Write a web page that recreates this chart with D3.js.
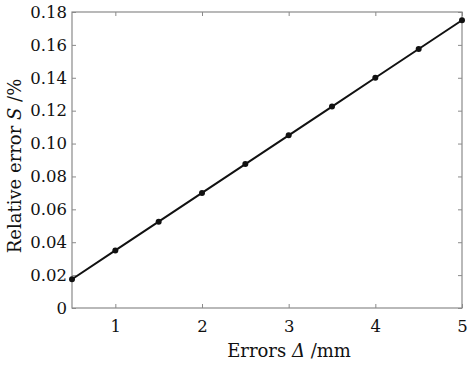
<!DOCTYPE html>
<html><head><meta charset="utf-8">
<script src="https://cdn.jsdelivr.net/npm/d3@7"></script>
<style>body{margin:0;background:#fff}svg{display:block}</style>
</head><body>
<script>
const xValues = [0.5, 1, 1.5, 2, 2.5, 3, 3.5, 4, 4.5, 5];
const yValues = [0.0175, 0.035, 0.0525, 0.070, 0.0875, 0.105, 0.1225, 0.140, 0.1575, 0.175];
const xTicks = [1, 2, 3, 4, 5];
const yTicks = [0, 0.02, 0.04, 0.06, 0.08, 0.10, 0.12, 0.14, 0.16, 0.18];
const yTickLabels = ["0", "0.02", "0.04", "0.06", "0.08", "0.10", "0.12", "0.14", "0.16", "0.18"];

const W = 470, H = 367;
const m = {l: 72, t: 12, r: 8, b: 59};
const font = "'DejaVu Serif', serif";
const svg = d3.select("body").append("svg").attr("width", W).attr("height", H);
const x = d3.scaleLinear().domain([0.5, 5]).range([m.l, W - m.r]);
const y = d3.scaleLinear().domain([0, 0.18]).range([H - m.b, m.t]);
const axisColor = "#8a8a8a";

function styleAxis(g, hideText) {
  g.select(".domain").remove();
  g.selectAll(".tick line").attr("stroke", axisColor).attr("stroke-width", 1);
  g.selectAll(".tick text").attr("font-family", font).attr("font-size", 16.5).attr("fill", "#111");
  if (hideText) g.selectAll(".tick text").remove();
}
svg.append("g").attr("transform", `translate(0,${H - m.b})`)
  .call(d3.axisBottom(x).tickValues(xTicks).tickSizeInner(-4).tickSizeOuter(0).tickPadding(12).tickFormat(d3.format("d")))
  .call(g => styleAxis(g));
svg.append("g").attr("transform", `translate(0,${m.t})`)
  .call(d3.axisTop(x).tickValues(xTicks).tickSizeInner(-4).tickSizeOuter(0))
  .call(g => styleAxis(g, true));
svg.append("g").attr("transform", `translate(${m.l},0)`)
  .call(d3.axisLeft(y).tickValues(yTicks).tickSizeInner(-4).tickSizeOuter(0).tickPadding(5).tickFormat((d, i) => yTickLabels[i]))
  .call(g => styleAxis(g));
svg.append("g").attr("transform", `translate(${W - m.r},0)`)
  .call(d3.axisRight(y).tickValues(yTicks).tickSizeInner(-4).tickSizeOuter(0))
  .call(g => styleAxis(g, true));
svg.append("rect").attr("x", m.l).attr("y", m.t).attr("width", W - m.r - m.l).attr("height", H - m.b - m.t)
  .attr("fill", "none").attr("stroke", axisColor).attr("stroke-width", 1.2);

const data = xValues.map((v, i) => [v, yValues[i]]);
svg.append("path").datum(data).attr("fill", "none").attr("stroke", "#111").attr("stroke-width", 2)
  .attr("d", d3.line().x(d => x(d[0])).y(d => y(d[1])));
svg.selectAll("circle").data(data).enter().append("circle")
  .attr("cx", d => x(d[0])).attr("cy", d => y(d[1])).attr("r", 3).attr("fill", "#111");

const xl = svg.append("text").attr("x", 289).attr("y", 357).attr("text-anchor", "middle")
  .attr("font-family", font).attr("font-size", 18).attr("fill", "#111");
xl.append("tspan").text("Errors ");
xl.append("tspan").attr("font-style", "italic").text("Δ");
xl.append("tspan").text(" /mm");

const yl = svg.append("text").attr("transform", `translate(21,166) rotate(-90)`)
  .attr("text-anchor", "middle").attr("font-family", font).attr("font-size", 18).attr("fill", "#111");
yl.append("tspan").text("Relative error ");
yl.append("tspan").attr("font-style", "italic").text("S");
yl.append("tspan").text(" /%");
</script>
</body></html>
